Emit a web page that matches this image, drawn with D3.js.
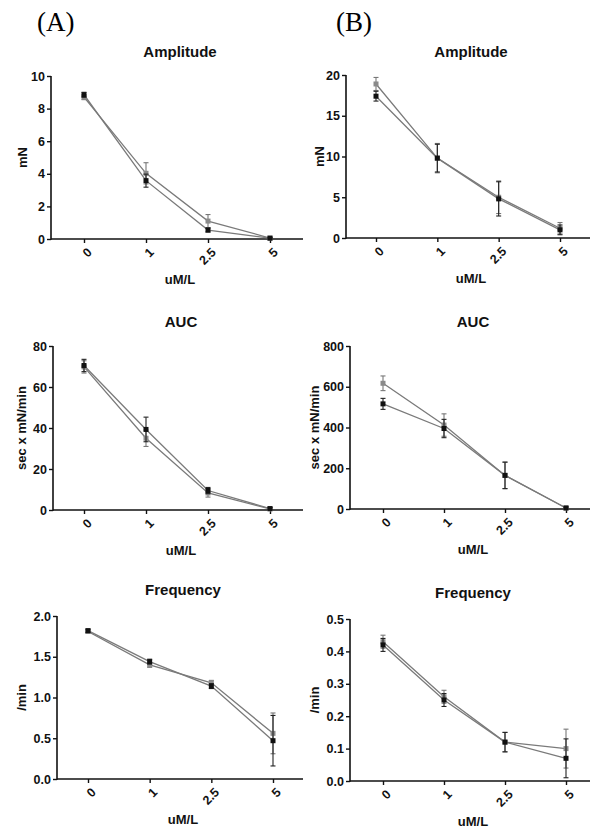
<!DOCTYPE html>
<html>
<head>
<meta charset="utf-8">
<script src="https://cdn.jsdelivr.net/npm/d3@7"></script>
<style>
  body { margin: 0; background: #fff; }
  svg { display: block; }
  .tick text { font-family: Arial, "Liberation Sans", sans-serif; font-weight: bold; font-size: 12.5px; fill: #111; }
  .lab { font-family: Arial, "Liberation Sans", sans-serif; font-weight: bold; fill: #111; }
</style>
</head>
<body>
<div id="chart"></div>
<script>
// categories (uM/L)
const doses = ["0", "1", "2.5", "5"];

// Amplitude (mN)
const ampA_black = [8.85, 3.58, 0.55, 0.05], ampA_blackErr = [0.15, 0.4, 0.12, 0.04];
const ampA_gray = [8.7, 4.03, 1.1, 0.06], ampA_grayErr = [0.15, 0.65, 0.4, 0.04];
const ampB_black = [17.4, 9.8, 4.8, 1.0], ampB_blackErr = [0.6, 1.7, 2.1, 0.6];
const ampB_gray = [18.9, 9.8, 5.0, 1.2], ampB_grayErr = [0.8, 1.8, 2.0, 0.7];

// AUC (sec x mN/min)
const aucA_black = [70.5, 39.3, 9.5, 0.7], aucA_blackErr = [3, 6, 1.5, 0.5];
const aucA_gray = [69.8, 35, 8.3, 0.5], aucA_grayErr = [3, 4, 2, 0.5];
const aucB_black = [516, 395, 165, 5], aucB_blackErr = [27, 45, 65, 5];
const aucB_gray = [617, 412, 165, 5], aucB_grayErr = [36, 55, 65, 5];

// Frequency (/min)
const freqA_black = [1.82, 1.44, 1.14, 0.47], freqA_blackErr = [0.02, 0.03, 0.03, 0.31];
const freqA_gray = [1.81, 1.40, 1.18, 0.56], freqA_grayErr = [0.02, 0.03, 0.03, 0.25];
const freqB_black = [0.42, 0.25, 0.12, 0.07], freqB_blackErr = [0.02, 0.02, 0.03, 0.06];
const freqB_gray = [0.43, 0.26, 0.12, 0.10], freqB_grayErr = [0.02, 0.02, 0.03, 0.06];

// y tick values
const ampA_ticks = [0, 2, 4, 6, 8, 10];
const ampB_ticks = [0, 5, 10, 15, 20];
const aucA_ticks = [0, 20, 40, 60, 80];
const aucB_ticks = [0, 200, 400, 600, 800];
const freqA_ticks = [0, 0.5, 1.0, 1.5, 2.0];
const freqB_ticks = [0, 0.1, 0.2, 0.3, 0.4, 0.5];

const W = 597, H = 831;
const svg = d3.select("#chart").append("svg").attr("width", W).attr("height", H);

// panel letters
svg.append("text").attr("x", 37).attr("y", 31)
  .style("font-family", "'Times New Roman', 'Liberation Serif', serif").style("font-size", "27px").text("(A)");
svg.append("text").attr("x", 336).attr("y", 31)
  .style("font-family", "'Times New Roman', 'Liberation Serif', serif").style("font-size", "27px").text("(B)");

const panels = [
  { title: "Amplitude", ylab: "mN", left: 51, right: 303, top: 76, bottom: 239, x0: 84, x1: 270, titleY: 57, ylabX: 27,
    ticks: ampA_ticks, fmt: d3.format("d"), black: ampA_black, blackErr: ampA_blackErr, gray: ampA_gray, grayErr: ampA_grayErr },
  { title: "Amplitude", ylab: "mN", left: 346, right: 590, top: 75, bottom: 238, x0: 376, x1: 560, titleY: 57, ylabX: 324,
    ticks: ampB_ticks, fmt: d3.format("d"), black: ampB_black, blackErr: ampB_blackErr, gray: ampB_gray, grayErr: ampB_grayErr },
  { title: "AUC", ylab: "sec x mN/min", left: 53, right: 303, top: 346, bottom: 510, x0: 84, x1: 270, titleY: 327, ylabX: 26,
    ticks: aucA_ticks, fmt: d3.format("d"), black: aucA_black, blackErr: aucA_blackErr, gray: aucA_gray, grayErr: aucA_grayErr },
  { title: "AUC", ylab: "sec x mN/min", left: 350, right: 590, top: 346, bottom: 509, x0: 383, x1: 566, titleY: 327, ylabX: 319,
    ticks: aucB_ticks, fmt: d3.format("d"), black: aucB_black, blackErr: aucB_blackErr, gray: aucB_gray, grayErr: aucB_grayErr },
  { title: "Frequency", ylab: "/min", left: 57, right: 303, top: 616, bottom: 779, x0: 88, x1: 273, titleY: 595, ylabX: 26,
    ticks: freqA_ticks, fmt: d3.format(".1f"), black: freqA_black, blackErr: freqA_blackErr, gray: freqA_gray, grayErr: freqA_grayErr },
  { title: "Frequency", ylab: "/min", left: 350, right: 590, top: 619, bottom: 781, x0: 383, x1: 566, titleY: 598, ylabX: 319,
    ticks: freqB_ticks, fmt: d3.format(".1f"), black: freqB_black, blackErr: freqB_blackErr, gray: freqB_gray, grayErr: freqB_grayErr }
];

panels.forEach(p => {
  const g = svg.append("g");
  const x = d3.scalePoint().domain(doses).range([p.x0, p.x1]);
  const y = d3.scaleLinear().domain([0, d3.max(p.ticks)]).range([p.bottom, p.top]);

  // axes
  const yAx = g.append("g").attr("transform", `translate(${p.left},0)`)
    .call(d3.axisLeft(y).tickValues(p.ticks).tickFormat(p.fmt).tickSize(4).tickPadding(2).tickSizeOuter(0));
  const xAx = g.append("g").attr("transform", `translate(0,${p.bottom})`)
    .call(d3.axisBottom(x).tickSize(4).tickSizeOuter(0));
  [yAx, xAx].forEach(a => {
    a.select(".domain").remove();
    a.selectAll(".tick line").attr("stroke", "#111").attr("stroke-width", 1.4);
  });
  xAx.selectAll(".tick text")
    .attr("text-anchor", "end").attr("dy", "0.35em")
    .attr("transform", "translate(5,11) rotate(-45)").attr("y", 0).attr("x", 0);
  g.append("line").attr("x1", p.left).attr("x2", p.left).attr("y1", p.top).attr("y2", p.bottom + 0.7)
    .attr("stroke", "#111").attr("stroke-width", 1.6);
  g.append("line").attr("x1", p.left).attr("x2", p.right).attr("y1", p.bottom).attr("y2", p.bottom)
    .attr("stroke", "#111").attr("stroke-width", 1.6);

  // labels
  g.append("text").attr("class", "lab").attr("x", (p.left + p.right) / 2 + 3).attr("y", p.titleY)
    .attr("text-anchor", "middle").style("font-size", "15px").text(p.title);
  g.append("text").attr("class", "lab").attr("x", (p.left + p.right) / 2 + 3).attr("y", p.bottom + 45)
    .attr("text-anchor", "middle").style("font-size", "13px").text("uM/L");
  g.append("text").attr("class", "lab")
    .attr("transform", `translate(${p.ylabX},${(p.top + p.bottom) / 2}) rotate(-90)`)
    .attr("text-anchor", "middle").style("font-size", "13px").text(p.ylab);

  const line = d3.line().x((d, i) => x(doses[i])).y(d => y(d));
  const series = [
    { vals: p.gray, err: p.grayErr, fill: "#8a8a8a", bar: "#777" },
    { vals: p.black, err: p.blackErr, fill: "#111", bar: "#222" }
  ];
  series.forEach(s => {
    g.append("path").datum(s.vals).attr("d", line)
      .attr("fill", "none").attr("stroke", "#7a7a7a").attr("stroke-width", 1.3);
  });
  series.forEach(s => {
    const eb = g.append("g");
    s.vals.forEach((v, i) => {
      const cx = x(doses[i]), yt = y(v + s.err[i]), yb = y(Math.max(0, v - s.err[i]));
      eb.append("line").attr("x1", cx).attr("x2", cx).attr("y1", yt).attr("y2", yb)
        .attr("stroke", s.bar).attr("stroke-width", 1.1);
      [yt, yb].forEach(yy => eb.append("line").attr("x1", cx - 2.5).attr("x2", cx + 2.5).attr("y1", yy).attr("y2", yy)
        .attr("stroke", s.bar).attr("stroke-width", 1.1));
    });
    g.append("g").selectAll("rect").data(s.vals).join("rect")
      .attr("x", (d, i) => x(doses[i]) - 2.5).attr("y", d => y(d) - 2.5)
      .attr("width", 5).attr("height", 5).attr("fill", s.fill);
  });
});
</script>
</body>
</html>
